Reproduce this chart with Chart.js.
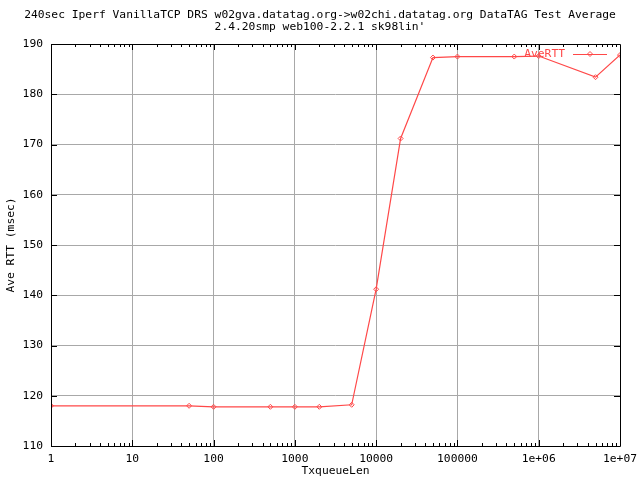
<!DOCTYPE html>
<html>
<head>
<meta charset="utf-8">
<script src="https://cdn.jsdelivr.net/npm/chart.js@4.4.0/dist/chart.umd.min.js"></script>
<style>
  html, body { margin: 0; padding: 0; background: #fff; }
  #wrap { width: 640px; height: 480px; }
</style>
</head>
<body>
<div id="wrap"><canvas id="myChart" width="640" height="480"></canvas></div>
<script>
// data
const txqueueLen = [1, 50, 100, 500, 1000, 2000, 5000, 10000, 20000, 50000, 100000, 500000, 1000000, 5000000, 10000000];
const aveRtt = [118.0, 118.0, 117.8, 117.8, 117.8, 117.8, 118.2, 141.2, 171.2, 187.3, 187.5, 187.5, 187.6, 183.4, 187.8];
const xTickValues = [1, 10, 100, 1000, 10000, 100000, 1000000, 10000000];
const xTickLabels = ['1', '10', '100', '1000', '10000', '100000', '1e+06', '1e+07'];
const yTickValues = [110, 120, 130, 140, 150, 160, 170, 180, 190];

const titleLines = [
  '240sec Iperf VanillaTCP DRS w02gva.datatag.org->w02chi.datatag.org DataTAG Test Average',
  "2.4.20smp web100-2.2.1 sk98lin'"
];
const seriesName = 'AveRTT';

const FONT = 'DejaVu Sans Mono';
const FSIZE = 11.3;
const RED = '#ff4848';

// box, inward ticks and key like gnuplot
const gnuplotFrame = {
  id: 'gnuplotFrame',
  afterDatasetsDraw(chart) {
    const { ctx, chartArea: a, scales } = chart;
    const x = scales.x, y = scales.y;
    ctx.save();
    ctx.strokeStyle = '#000';
    ctx.lineWidth = 1;
    ctx.beginPath();
    ctx.rect(a.left + 0.5, a.top + 0.5, a.right - a.left, a.bottom - a.top);
    ctx.stroke();

    ctx.beginPath();
    // x ticks, major and minor, bottom and top
    for (let e = 0; e < 7; e++) {
      for (let m = 1; m <= 9; m++) {
        const v = m * Math.pow(10, e);
        const px = Math.round(x.getPixelForValue(v)) + 0.5;
        const len = m === 1 ? 6 : 3;
        ctx.moveTo(px, a.bottom); ctx.lineTo(px, a.bottom - len);
        ctx.moveTo(px, a.top); ctx.lineTo(px, a.top + len);
      }
    }
    // y ticks, left and right
    yTickValues.forEach(v => {
      const py = Math.round(y.getPixelForValue(v)) + 0.5;
      ctx.moveTo(a.left, py); ctx.lineTo(a.left + 6, py);
      ctx.moveTo(a.right, py); ctx.lineTo(a.right - 6, py);
    });
    ctx.stroke();

    // key
    const ky = a.top + 10;
    ctx.fillStyle = RED;
    ctx.font = FSIZE + 'px ' + FONT;
    ctx.textAlign = 'right';
    ctx.textBaseline = 'middle';
    ctx.fillText(seriesName, a.right - 55, ky);
    ctx.strokeStyle = RED;
    ctx.beginPath();
    ctx.moveTo(a.right - 47, ky + 0.5);
    ctx.lineTo(a.right - 13, ky + 0.5);
    ctx.stroke();
    const mx = a.right - 30;
    ctx.beginPath();
    ctx.moveTo(mx, ky - 2.5); ctx.lineTo(mx + 2.5, ky); ctx.lineTo(mx, ky + 2.5); ctx.lineTo(mx - 2.5, ky);
    ctx.closePath();
    ctx.stroke();
    ctx.restore();
  }
};

new Chart(document.getElementById('myChart'), {
  type: 'line',
  data: {
    datasets: [{
      label: seriesName,
      data: txqueueLen.map((v, i) => ({ x: v, y: aveRtt[i] })),
      borderColor: RED,
      borderWidth: 1.2,
      backgroundColor: 'rgba(0,0,0,0)',
      pointStyle: 'rectRot',
      pointRadius: 2.5,
      pointBorderColor: RED,
      pointBorderWidth: 1,
      pointBackgroundColor: 'rgba(0,0,0,0)',
      tension: 0,
      fill: false
    }]
  },
  options: {
    responsive: false,
    animation: false,
    layout: { padding: 0 },
    plugins: {
      legend: { display: false },
      tooltip: { enabled: false },
      title: {
        display: true,
        text: titleLines,
        color: '#000',
        font: { family: FONT, size: FSIZE, weight: 'normal', lineHeight: '12px' },
        padding: { top: 9, bottom: 11 }
      }
    },
    scales: {
      x: {
        type: 'logarithmic',
        min: 1,
        max: 10000000,
        afterBuildTicks: s => { s.ticks = xTickValues.map(v => ({ value: v })); },
        afterFit: s => { s.height = 34; s.paddingRight = 20; s.paddingLeft = 0; },
        grid: {
          color: c => (c.tick && c.tick.value > 1 && c.tick.value < 10000000) ? '#a8a8a8' : 'rgba(0,0,0,0)',
          lineWidth: 1,
          drawTicks: false
        },
        border: { display: false },
        ticks: {
          autoSkip: false,
          maxRotation: 0,
          padding: 6,
          color: '#000',
          font: { family: FONT, size: FSIZE },
          callback: v => {
            const i = xTickValues.indexOf(v);
            return i >= 0 ? xTickLabels[i] : '';
          }
        },
        title: {
          display: true,
          text: 'TxqueueLen',
          color: '#000',
          font: { family: FONT, size: FSIZE },
          padding: { top: 0, bottom: 2 }
        }
      },
      y: {
        min: 110,
        max: 190,
        afterBuildTicks: s => { s.ticks = yTickValues.map(v => ({ value: v })); },
        afterFit: s => { s.width = 51; },
        grid: {
          color: c => (c.tick && c.tick.value > 110 && c.tick.value < 190) ? '#a8a8a8' : 'rgba(0,0,0,0)',
          lineWidth: 1,
          drawTicks: false
        },
        border: { display: false },
        ticks: {
          padding: 8,
          color: '#000',
          font: { family: FONT, size: FSIZE }
        },
        title: {
          display: true,
          text: 'Ave RTT (msec)',
          color: '#000',
          font: { family: FONT, size: FSIZE },
          padding: { top: 4, bottom: 0 }
        }
      }
    }
  },
  plugins: [gnuplotFrame]
});
</script>
</body>
</html>
